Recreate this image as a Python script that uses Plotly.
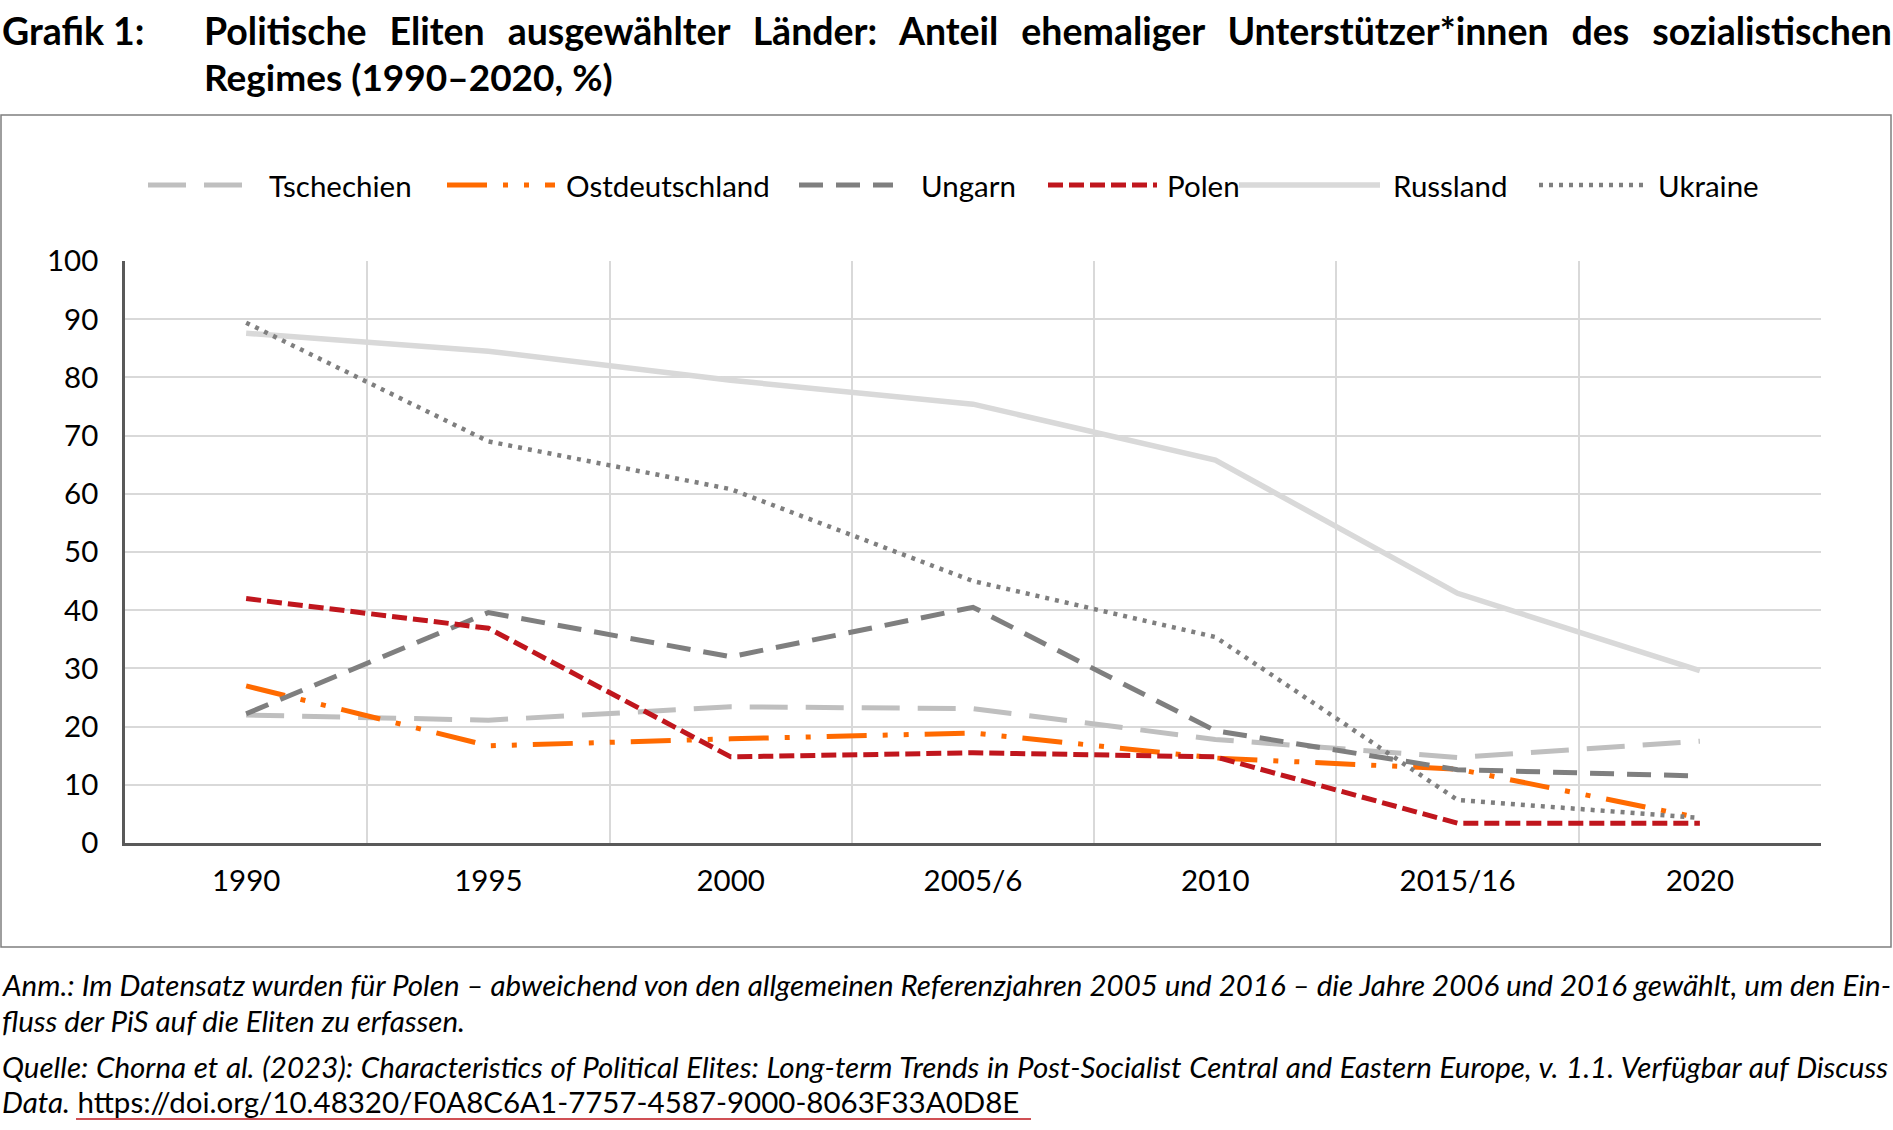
import plotly.graph_objects as go

# ---------------- data ----------------
categories = ["1990", "1995", "2000", "2005/6", "2010", "2015/16", "2020"]
tschechien = [22.0, 21.1, 23.4, 23.1, 17.8, 14.7, 17.5]
ostdeutschland = [27.0, 16.7, 17.9, 18.9, 14.6, 12.7, 4.3]
ungarn = [22.2, 39.6, 32.0, 40.5, 19.3, 12.6, 11.5]
polen = [42.0, 36.9, 14.8, 15.5, 14.8, 3.4, 3.4]
russland = [87.6, 84.5, 79.5, 75.4, 65.8, 42.9, 29.6]
ukraine = [89.4, 69.0, 60.8, 45.0, 35.4, 7.4, 4.3]
y_ticks = list(range(0, 101, 10))

series_names = ["Tschechien", "Ostdeutschland", "Ungarn", "Polen", "Russland", "Ukraine"]
series_values = [tschechien, ostdeutschland, ungarn, polen, russland, ukraine]

# ---------------- styles ----------------
colors = ["#bfbfbf", "#ff6a00", "#7f7f7f", "#c0161d", "#d9d9d9", "#7f7f7f"]
widths = [5, 5, 5, 5, 5.5, 4.5]
dashes = ["38px,18px", "40px,16px,5px,16px,5px,16px", "24px,13px", "15px,6px", "solid", "4px,6px"]

W, H = 1893, 1130
L, R, T, B = 125, 1821, 261, 843  # plot area in pixels
FONT = "Lato"
FS = 29.5


def px(X):
    return (X - L) / (R - L)


def py(Y):
    return (B - Y) / (B - T)


fig = go.Figure()
for name, vals, c, w, d in zip(series_names, series_values, colors, widths, dashes):
    fig.add_trace(go.Scatter(x=categories, y=vals, mode="lines", name=name,
                             line=dict(color=c, width=w, dash=d),
                             showlegend=False, hoverinfo="x+y+name"))

annotations = []
shapes = []

# ---- manual legend ----
legend_sample = [(148, 248), (447, 555), (799, 893), (1048, 1157), (1239, 1380), (1539, 1646)]
legend_text_x = [267, 564, 919, 1165, 1391, 1656]
LEG_Y = 185
for name, (x0, x1), tx, c, w, d in zip(series_names, legend_sample, legend_text_x, colors, widths, dashes):
    shapes.append(dict(type="line", xref="paper", yref="paper", x0=px(x0), x1=px(x1),
                       y0=py(LEG_Y), y1=py(LEG_Y), line=dict(color=c, width=w, dash=d)))
    annotations.append(dict(text=name, xref="paper", yref="paper", x=px(tx), y=py(LEG_Y),
                            xanchor="left", yanchor="middle", showarrow=False,
                            font=dict(family=FONT, size=FS, color="#000")))

# ---- title ----
title_font = dict(family=FONT, size=37.5, color="#000")
annotations.append(dict(text="<b>Grafik 1:</b>", xref="paper", yref="paper", x=px(0), y=py(30),
                        xanchor="left", yanchor="middle", showarrow=False, font=title_font))
annotations.append(dict(text="<b>Politische Eliten ausgewählter Länder: Anteil ehemaliger Unterstützer*innen des sozialistischen</b>",
                        xref="paper", yref="paper", x=px(202), y=py(30), align="left",
                        xanchor="left", yanchor="middle", showarrow=False, font=title_font))
annotations.append(dict(text="<b>Regimes (1990–2020, %)</b>", xref="paper", yref="paper", x=px(202), y=py(76),
                        xanchor="left", yanchor="middle", showarrow=False,
                        font=dict(family=FONT, size=37, color="#000")))

# ---- footnotes ----
note_font = dict(family=FONT, size=29.5, color="#000")
notes = [
    ("<i>Anm.: Im Datensatz wurden für Polen – abweichend von den allgemeinen Referenzjahren 2005 und 2016 – die Jahre 2006 und 2016 gewählt, um den Ein-</i>", 984),
    ("<i>fluss der PiS auf die Eliten zu erfassen.</i>", 1020),
    ("<i>Quelle: Chorna et al. (2023): Characteristics of Political Elites: Long-term Trends in Post-Socialist Central and Eastern Europe, v. 1.1. Verfügbar auf Discuss</i>", 1066),
    ("<i>Data.</i> https://doi.org/10.48320/F0A8C6A1-7757-4587-9000-8063F33A0D8E", 1101),
]
for txt, y in notes:
    annotations.append(dict(text=txt, xref="paper", yref="paper", x=px(0), y=py(y), align="left",
                            xanchor="left", yanchor="middle", showarrow=False, font=note_font))
# red underline under link
shapes.append(dict(type="line", xref="paper", yref="paper", x0=px(76), x1=px(1031),
                   y0=py(1119), y1=py(1119), line=dict(color="#c0161d", width=1.5)))

# ---- chart frame ----
shapes.append(dict(type="rect", xref="paper", yref="paper", x0=px(1), x1=px(1891),
                   y0=py(115), y1=py(947), line=dict(color="#7f7f7f", width=1.5), layer="below"))

fig.update_layout(
    width=W, height=H,
    margin=dict(l=L, r=W - R, t=T, b=H - B, pad=0),
    paper_bgcolor="white", plot_bgcolor="white",
    font=dict(family=FONT, size=FS, color="#000"),
    annotations=annotations, shapes=shapes,
    showlegend=False,
)
fig.update_xaxes(type="category", categoryorder="array", categoryarray=categories,
                 range=[-0.5, len(categories) - 0.5],
                 tickson="boundaries", ticks="", showgrid=True, gridcolor="#d9d9d9", gridwidth=1.5,
                 showline=True, linecolor="#595959", linewidth=3,
                 tickfont=dict(family=FONT, size=FS, color="#000"), ticklabelstandoff=10,
                 fixedrange=True)
fig.update_yaxes(range=[0, 100], tickvals=y_ticks, ticks="", showgrid=True, gridcolor="#d9d9d9",
                 gridwidth=2, zeroline=False, showline=True, linecolor="#595959", linewidth=2.5,
                 tickfont=dict(family=FONT, size=FS, color="#000"), ticklabelstandoff=18,
                 fixedrange=True)

# justify selected text lines (emulates the justified typesetting of the original)
post = """
document.body.style.margin='0';
document.body.style.overflow='hidden';
(function(){
  var gd = document.getElementById('{plot_id}');
  var targets = [['Politische', 1688], ['Anm.:', 1888], ['Quelle:', 1886]];
  function justify(){
    var els = gd.querySelectorAll('text.annotation-text');
    els.forEach(function(t){
      var s = t.textContent || '';
      targets.forEach(function(tg){
        if (s.indexOf(tg[0]) === 0) {
          t.style.wordSpacing = '0px';
          var w = t.getComputedTextLength();
          var n = (s.match(/ /g) || []).length;
          if (n > 0) { t.style.wordSpacing = ((tg[1] - w) / n) + 'px'; }
        }
      });
    });
  }
  try { justify(); } catch(e) {}
  if (document.fonts && document.fonts.ready) {
    document.fonts.ready.then(function(){ try { justify(); } catch(e) {} });
  }
})();
"""

fig.write_html("out.html", config={"displayModeBar": False}, post_script=post)
